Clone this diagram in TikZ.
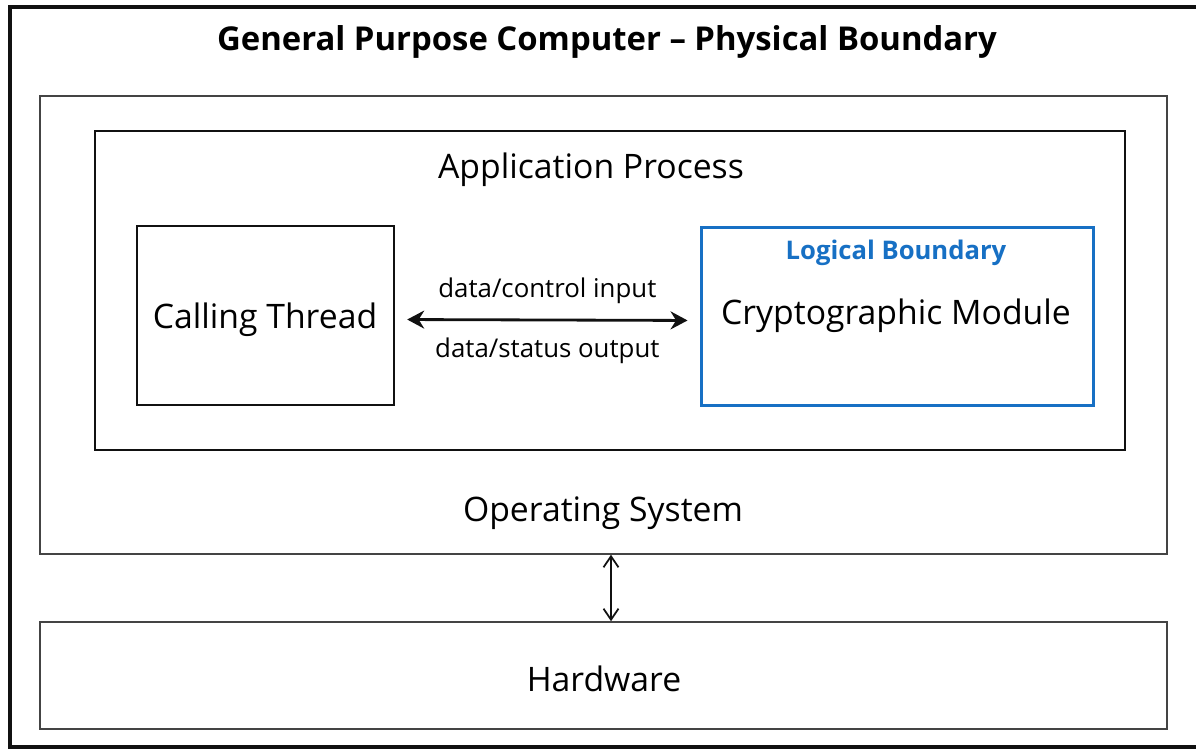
\documentclass[tikz,border=0pt]{standalone}
\usepackage{fontspec}
\setmainfont{Open Sans}
\usetikzlibrary{arrows.meta,positioning}
\definecolor{dark}{HTML}{111111}
\definecolor{osgray}{HTML}{444444}
\definecolor{logicblue}{HTML}{1770C4}
\tikzset{
  frame/.style={draw=dark, line width=2.2pt, minimum width=24.4cm, minimum height=14.8cm, inner sep=0pt},
  layerbox/.style={draw=osgray, line width=0.9pt, minimum width=22.54cm, inner sep=0pt},
  box/.style={draw=dark, line width=1.4pt, inner sep=0pt},
  bluebox/.style={box, draw=logicblue, line width=1.7pt},
  bigtext/.style={inner sep=0pt, font=\fontsize{19.2}{23}\selectfont},
  smalltext/.style={inner sep=0pt, font=\fontsize{14.7}{17}\selectfont},
  arrow/.style={{Stealth[length=3.4mm,width=3.6mm]}-{Stealth[length=3.4mm,width=3.6mm]}, line width=1.6pt, draw=dark},
  thinarrow/.style={{Straight Barb[length=2.2mm,width=3mm]}-{Straight Barb[length=2.2mm,width=3mm]}, line width=1pt, draw=dark}
}
\begin{document}
\begin{tikzpicture}[x=0.02cm, y=-0.02cm]
  \useasboundingbox (0,0) rectangle (1196,749);
  \clip (0,0) rectangle (1196,749);
  % outer physical boundary
  \node[frame] (pc) at (620,377) {};
  \node[bigtext, font=\fontsize{18.7}{22}\selectfont\bfseries] (title) at (607,42) {General Purpose Computer -- Physical Boundary};
  % operating system and hardware
  \node[layerbox, minimum height=9.16cm] (os) at (603.5,325) {};
  \node[bigtext] (ostext) at (603,513) {Operating System};
  \node[layerbox, minimum height=2.14cm] (hw) at (603.5,675.5) {};
  \node[bigtext] (hwtext) at (604,679) {Hardware};
  % application process
  \node[box, minimum width=20.6cm, minimum height=6.38cm] (app) at (610,290.5) {};
  \node[bigtext] (apptext) at (591,170) {Application Process};
  \node[box, minimum width=5.14cm, minimum height=3.58cm] (thread) at (265.5,315.5) {};
  \node[bigtext] (threadtext) at (265,320) {Calling Thread};
  \node[bluebox, minimum width=7.86cm, minimum height=3.58cm] (crypto) at (897.5,316.5) {};
  \node[smalltext, font=\fontsize{14.6}{17}\selectfont\bfseries, text=logicblue] (logictext) at (896,253) {Logical Boundary};
  \node[bigtext] (cryptotext) at (896,316) {Cryptographic Module};
  % connectors
  \draw[arrow, shorten <=0.24cm, shorten >=0.24cm] ([yshift=-0.08cm]thread.east) -- ([yshift=-0.08cm]crypto.west)
    node[midway, above=0.3cm, smalltext] (intext) {data/control input}
    node[midway, below=0.33cm, smalltext] (outtext) {data/status output};
  \draw[thinarrow] ([xshift=0.15cm]os.south) -- ([xshift=0.15cm]hw.north);
\end{tikzpicture}
\end{document}
